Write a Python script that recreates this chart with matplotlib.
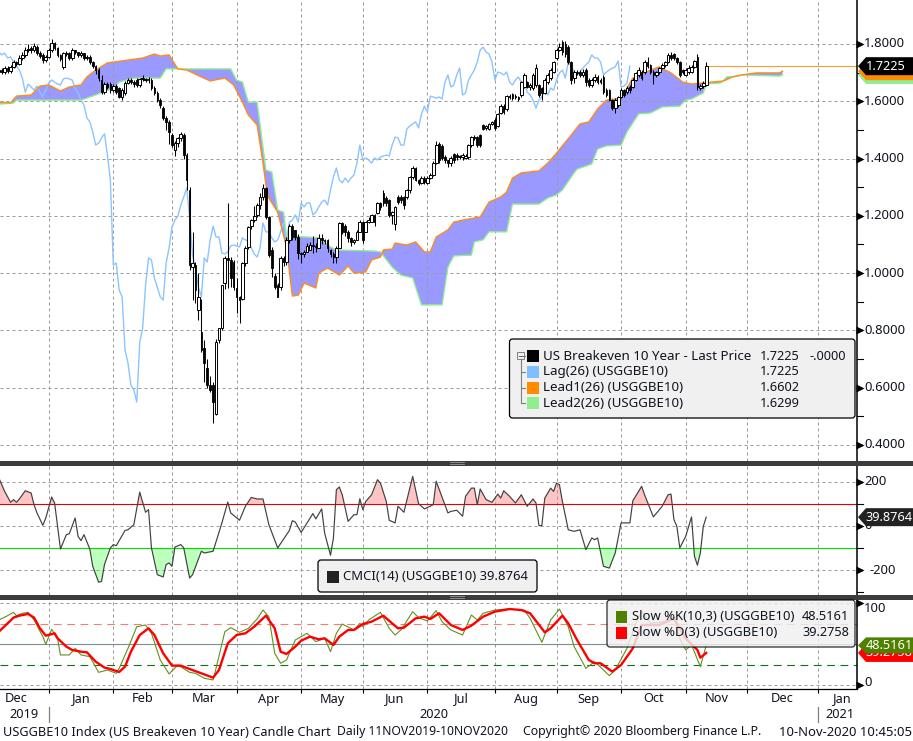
#!/usr/bin/env python3
# -*- coding: utf-8 -*-
import numpy as np
import matplotlib
matplotlib.use('Agg')
import matplotlib.pyplot as plt
from matplotlib.patches import Polygon, FancyBboxPatch, Rectangle

plt.rcParams['font.family'] = ['Noto Sans', 'DejaVu Sans']

W, H = 913, 741
TEXT = '#10141f'
GRID = '#9a9a9a'

# sessions are weekdays counted from 9 Dec 2019, candles run to 10 Nov 2020
opens = [
    1.702,1.709,1.702,1.716,1.706,1.720,1.737,1.730,1.751,1.762,
    1.779,1.786,1.779,1.789,1.768,1.762,1.744,1.755,1.779,1.803,
    1.786,1.762,1.720,1.768,1.768,1.751,1.779,1.772,1.762,1.768,
    1.751,1.755,1.737,1.723,1.709,1.674,1.632,1.660,1.660,1.639,
    1.653,1.646,1.615,1.629,1.664,1.674,1.667,1.674,1.657,1.678,
    1.674,1.678,1.674,1.646,1.629,1.604,1.576,1.542,1.528,1.482,
    1.430,1.454,1.472,1.482,1.412,1.290,1.021,1.028,0.871,0.794,
    0.738,0.669,0.609,0.609,0.508,0.766,0.808,0.965,1.053,1.046,
    1.039,0.948,0.917,0.910,1.035,1.091,1.164,1.185,1.203,1.238,
    1.266,1.297,1.196,1.081,0.990,0.958,0.951,1.053,1.039,1.116,
    1.164,1.151,1.126,1.070,1.067,1.074,1.081,1.098,1.095,1.088,
    1.123,1.116,1.116,1.081,1.067,1.056,1.088,1.175,1.164,1.144,
    1.123,1.109,1.116,1.144,1.178,1.144,1.178,1.178,1.203,1.210,
    1.245,1.280,1.262,1.255,1.203,1.171,1.266,1.266,1.266,1.266,
    1.290,1.336,1.367,1.325,1.315,1.332,1.315,1.332,1.343,1.384,
    1.451,1.444,1.405,1.395,1.384,1.416,1.412,1.405,1.405,1.402,
    1.405,1.447,1.475,1.475,1.482,1.517,1.507,1.503,1.521,1.535,
    1.514,1.559,1.583,1.573,1.618,1.625,1.618,1.615,1.622,1.650,
    1.667,1.650,1.646,1.657,1.657,1.646,1.629,1.667,1.681,1.702,
    1.751,1.779,1.807,1.800,1.789,1.737,1.681,1.702,1.702,1.692,
    1.709,1.674,1.657,1.674,1.685,1.674,1.685,1.639,1.639,1.604,
    1.576,1.587,1.615,1.639,1.632,1.650,1.650,1.674,1.692,1.702,
    1.702,1.737,1.727,1.702,1.692,1.702,1.716,1.727,1.737,1.762,
    1.765,1.751,1.737,1.709,1.692,1.702,1.702,1.720,1.755,1.646,
    1.653,1.657]
closes = [
    1.709,1.702,1.716,1.706,1.720,1.737,1.730,1.751,1.762,1.779,
    1.782,1.779,1.793,1.768,1.758,1.744,1.755,1.779,1.803,1.786,
    1.762,1.748,1.768,1.765,1.751,1.779,1.772,1.762,1.768,1.751,
    1.755,1.737,1.723,1.709,1.681,1.632,1.660,1.650,1.639,1.653,
    1.632,1.615,1.639,1.664,1.674,1.667,1.660,1.657,1.678,1.681,
    1.678,1.674,1.646,1.629,1.604,1.587,1.542,1.528,1.493,1.447,
    1.454,1.472,1.486,1.412,1.325,1.028,1.035,0.941,0.917,0.731,
    0.686,0.609,0.592,0.550,0.759,0.808,0.958,1.053,1.046,0.983,
    0.951,0.917,0.906,1.035,1.088,1.161,1.185,1.199,1.238,1.266,
    1.297,1.196,1.063,1.018,0.951,0.917,1.053,1.039,1.116,1.164,
    1.126,1.126,1.070,1.067,1.074,1.095,1.098,1.095,1.091,1.123,
    1.116,1.112,1.088,1.067,1.056,1.088,1.175,1.144,1.144,1.123,
    1.109,1.116,1.144,1.178,1.116,1.178,1.185,1.203,1.178,1.245,
    1.231,1.245,1.245,1.203,1.213,1.231,1.248,1.255,1.238,1.290,
    1.336,1.367,1.325,1.315,1.332,1.318,1.332,1.343,1.384,1.447,
    1.395,1.402,1.395,1.384,1.402,1.395,1.405,1.409,1.412,1.409,
    1.447,1.475,1.472,1.447,1.447,1.503,1.514,1.521,1.528,1.507,
    1.556,1.583,1.563,1.618,1.615,1.611,1.615,1.608,1.667,1.692,
    1.650,1.657,1.692,1.716,1.622,1.629,1.674,1.692,1.709,1.737,
    1.779,1.789,1.772,1.765,1.737,1.674,1.702,1.699,1.692,1.702,
    1.667,1.657,1.674,1.685,1.667,1.667,1.632,1.622,1.604,1.576,
    1.604,1.615,1.639,1.622,1.646,1.639,1.674,1.699,1.709,1.681,
    1.737,1.723,1.702,1.692,1.702,1.716,1.727,1.737,1.762,1.751,
    1.751,1.737,1.692,1.702,1.709,1.716,1.720,1.741,1.650,1.653,
    1.664,1.7225]
highs = [
    1.722,1.716,1.724,1.722,1.728,1.745,1.742,1.760,1.772,1.788,
    1.800,1.794,1.805,1.795,1.775,1.770,1.760,1.785,1.818,1.808,
    1.790,1.766,1.772,1.775,1.772,1.785,1.780,1.770,1.775,1.770,
    1.760,1.760,1.742,1.725,1.715,1.690,1.668,1.668,1.668,1.660,
    1.662,1.650,1.645,1.672,1.682,1.682,1.675,1.682,1.682,1.690,
    1.682,1.685,1.682,1.652,1.635,1.610,1.582,1.548,1.535,1.490,
    1.462,1.475,1.492,1.490,1.420,1.300,1.143,1.040,1.000,0.910,
    0.766,0.700,0.640,0.620,0.770,0.790,0.960,1.060,1.245,1.056,
    1.046,0.983,0.920,1.040,1.095,1.165,1.190,1.235,1.245,1.280,
    1.310,1.300,1.200,1.090,1.000,0.965,1.060,1.060,1.125,1.170,
    1.170,1.150,1.135,1.075,1.080,1.105,1.110,1.130,1.105,1.135,
    1.135,1.120,1.120,1.085,1.075,1.095,1.180,1.178,1.170,1.150,
    1.125,1.120,1.150,1.185,1.182,1.182,1.195,1.208,1.206,1.250,
    1.250,1.290,1.270,1.260,1.218,1.235,1.272,1.272,1.270,1.295,
    1.340,1.375,1.372,1.330,1.340,1.340,1.338,1.350,1.390,1.460,
    1.458,1.450,1.412,1.395,1.408,1.420,1.418,1.412,1.418,1.415,
    1.452,1.480,1.482,1.480,1.486,1.520,1.518,1.525,1.532,1.540,
    1.560,1.590,1.590,1.622,1.625,1.630,1.625,1.620,1.672,1.700,
    1.672,1.665,1.698,1.730,1.662,1.650,1.680,1.700,1.715,1.742,
    1.785,1.805,1.815,1.810,1.795,1.740,1.708,1.710,1.710,1.712,
    1.715,1.680,1.680,1.695,1.690,1.680,1.690,1.645,1.642,1.608,
    1.610,1.620,1.645,1.642,1.652,1.656,1.680,1.703,1.718,1.708,
    1.745,1.755,1.730,1.708,1.705,1.720,1.735,1.742,1.770,1.772,
    1.770,1.755,1.740,1.712,1.715,1.725,1.725,1.745,1.765,1.660,
    1.670,1.737]
lows = [
    1.695,1.695,1.695,1.700,1.700,1.715,1.722,1.725,1.745,1.755,
    1.772,1.770,1.772,1.762,1.752,1.735,1.738,1.750,1.772,1.780,
    1.755,1.740,1.712,1.758,1.745,1.745,1.765,1.755,1.755,1.745,
    1.745,1.730,1.715,1.695,1.670,1.625,1.625,1.642,1.628,1.632,
    1.625,1.610,1.605,1.622,1.660,1.660,1.650,1.650,1.650,1.672,
    1.668,1.665,1.640,1.622,1.598,1.575,1.535,1.500,1.450,1.440,
    1.410,1.440,1.462,1.400,1.290,1.010,0.906,0.896,0.836,0.725,
    0.620,0.600,0.585,0.477,0.505,0.757,0.800,0.945,0.948,0.951,
    0.941,0.861,0.825,0.905,1.025,1.085,1.155,1.180,1.195,1.225,
    1.255,1.190,1.055,0.985,0.945,0.915,0.940,1.025,1.030,1.105,
    1.115,1.115,1.050,1.035,1.055,1.075,1.085,1.070,1.075,1.105,
    1.100,1.100,1.075,1.055,1.035,1.035,1.160,1.135,1.130,1.110,
    1.095,1.100,1.130,1.165,1.105,1.165,1.175,1.190,1.165,1.205,
    1.220,1.235,1.235,1.195,1.170,1.150,1.240,1.245,1.225,1.260,
    1.280,1.330,1.320,1.308,1.310,1.310,1.310,1.328,1.340,1.380,
    1.385,1.395,1.385,1.370,1.375,1.385,1.395,1.400,1.395,1.398,
    1.400,1.440,1.465,1.440,1.440,1.500,1.500,1.500,1.518,1.500,
    1.510,1.555,1.555,1.565,1.608,1.605,1.608,1.602,1.615,1.645,
    1.645,1.640,1.640,1.650,1.615,1.605,1.625,1.660,1.675,1.700,
    1.745,1.775,1.760,1.755,1.730,1.660,1.665,1.690,1.685,1.685,
    1.655,1.650,1.650,1.668,1.660,1.660,1.625,1.615,1.600,1.570,
    1.560,1.580,1.610,1.615,1.625,1.630,1.645,1.670,1.685,1.675,
    1.695,1.715,1.695,1.660,1.685,1.695,1.712,1.720,1.732,1.745,
    1.745,1.730,1.685,1.695,1.688,1.695,1.698,1.715,1.640,1.640,
    1.645,1.655]

lead1_days = [0,4,6,11,14,17,21,24,28,30,33,37,42,49,53,55,58,61,64,69,72,77,80,83,85,88,90,91,92,95,98,
              100,102,104,108,109,112,116,119,121,125,127,130,131,134,135,139,142,145,147,149,153,155,158,
              164,167,171,173,175,178,184,187,190,195,198,201,204,207,212,216,222,225,229,233,236,240,243,
              247,250,253,258,262,266,267]
lead1 = [1.597,1.594,1.618,1.622,1.653,1.657,1.636,1.650,1.657,1.685,1.709,1.734,1.741,1.751,1.765,1.758,
         1.762,1.713,1.709,1.685,1.671,1.681,1.657,1.597,1.552,1.517,1.384,1.308,1.262,1.213,1.091,
         0.920,0.923,0.965,0.948,1.000,1.018,0.993,1.025,1.000,1.004,1.046,1.056,1.081,1.084,1.105,1.098,
         1.109,1.074,1.074,1.126,1.151,1.178,1.185,1.196,1.248,1.266,1.283,1.332,1.350,1.357,1.384,1.419,
         1.482,1.521,1.528,1.573,1.604,1.611,1.681,1.709,1.720,1.699,1.667,1.660,1.664,1.667,
         1.671,1.685,1.692,1.699,1.699,1.699,1.7051]
lead2_days = [0,5,6,28,33,39,41,46,55,57,79,81,83,85,88,91,93,95,97,98,105,109,113,115,128,130,134,137,141,
              144,151,153,155,161,162,165,167,173,175,184,187,190,192,196,197,202,204,207,212,214,218,222,
              226,232,234,236,240,241,246,248,252,253,266,267]
lead2 = [1.590,1.594,1.604,1.604,1.622,1.646,1.667,1.681,1.681,1.713,1.713,1.674,1.667,1.597,1.597,1.360,
         1.353,1.220,1.213,1.129,1.126,1.123,1.091,1.081,1.077,1.074,1.021,0.993,0.983,
         0.889,0.889,1.021,1.060,1.063,1.109,1.116,1.144,1.144,1.241,1.241,1.262,1.273,1.290,1.350,1.363,
         1.381,1.433,1.444,1.447,1.493,1.556,1.559,1.580,1.583,1.604,1.608,1.629,1.660,1.664,1.685,1.688,
         1.692,1.688,1.6919]

cmci_days = [0,2,4,5,6,7,9,11,12,13,15,16,18,19,21,23,24,26,27,28,29,31,32,34,35,36,38,39,40,43,44,46,48,50,
             51,52,54,56,57,58,59,60,62,63,65,66,69,70,73,76,78,79,82,84,86,88,90,92,95,99,100,101,103,107,
             108,110,111,113,114,115,116,117,119,121,122,123,124,125,127,129,130,132,133,135,136,138,141,
             143,145,148,149,153,154,156,158,159,161,162,163,164,166,168,170,171,172,174,176,178,180,182,
             183,184,185,186,188,189,190,191,192,194,196,198,200,202,203,204,206,208,210,212,215,216,219,
             220,223,226,228,229,230,231,232,234,236,237,238,239,240,241]
cmci = [217,156,107,119,107,122,159,149,96,59,3,36,131,104,-104,-39,-35,36,-47,-66,-39,-104,-182,-254,-250,
        -174,-99,-84,-89,-20,-17,6,153,62,74,-99,-220,-230,-174,-167,-182,-95,-84,-99,-235,-220,-114,-122,
        -114,14,108,59,26,89,129,122,122,6,-99,-20,24,18,-29,56,32,77,-32,-132,-54,164,176,141,21,51,51,
        123,74,111,141,209,194,111,26,14,89,62,224,101,77,96,202,59,66,71,44,134,171,171,96,167,119,107,
        144,126,159,134,104,141,89,122,104,2,2,126,171,156,194,186,111,-17,-24,-17,-107,-54,-62,-54,-182,
        -190,-122,14,14,114,179,141,41,89,141,144,29,-2,-99,-47,41,-137,-177,-122,-2,39.8764]

k_days = [0,3,5,6,8,10,12,15,16,18,20,21,24,26,28,31,34,37,40,41,44,47,50,52,55,58,61,65,67,70,73,74,77,79,82,
          85,88,90,92,94,96,98,101,103,105,108,111,113,115,117,121,123,124,126,130,133,135,137,141,143,146,
          149,151,154,158,161,163,165,169,173,179,181,185,188,191,194,196,200,203,208,210,214,217,219,222,
          227,230,232,234,236,239,241]
slow_k = [79.6,84.9,89,84.9,87.8,89,79.6,59.2,49.8,68.2,57.2,36.8,36.8,44.9,36.8,34.7,15.5,18.4,14.3,20.4,44.9,
          71.4,73.5,63.3,30.6,13.5,24.5,15.5,14.3,8.2,6.2,20.4,65.3,70.2,64.5,69.4,80.8,91.8,83.7,38.8,26.6,
          30.6,55.1,59.2,63.3,53.1,57.2,40.8,63.3,74.7,67.4,75.5,71.4,79.6,89,69.4,61.2,67.4,89.8,82.5,78.4,
          91,77.6,67.4,61.2,85.7,79.6,87.8,91.8,93,91.8,81.6,52.3,79.6,93,71.4,47,20.4,28.6,11.5,18.4,44.9,
          75.5,89.8,75.5,77.6,83.7,57.2,42.9,49,22.5,48.5161]
d_days = [0,3,5,7,10,12,14,16,19,20,23,25,28,30,33,36,38,41,43,45,48,51,53,56,59,62,65,69,73,75,78,81,84,87,91,
          94,96,98,101,103,106,109,111,114,116,119,121,124,127,131,134,136,138,142,145,147,150,154,158,161,
          165,169,174,178,181,186,188,192,194,197,201,203,205,209,212,216,219,225,230,234,238,239,241]
slow_d = [65.3,75.5,82.5,84.9,87,82.5,69.4,60.4,63.3,57.2,47,42.9,40.8,40,28.6,21.3,19.6,15.9,22.5,40.8,61.2,
          69.4,61.2,38.8,23.7,23.7,19.6,14.3,9,18.4,51,61.2,63.3,71.4,84.9,69.4,40.8,38,47,54.3,59.2,55.9,
          57.2,49,59.2,67.4,67.4,74.7,77.6,84.9,75.5,69.4,70.2,81.6,83.7,80.8,87.8,73.5,67.4,72.7,83.7,89.8,
          93,91.8,87.8,64.5,69.4,84.9,75.5,55.1,30.6,26.6,26.6,16.4,24.5,44.9,73.5,73.5,81.6,57.2,42.9,33.5,
          39.2758]

month_ends = ['2020-01-01','2020-01-31','2020-02-28','2020-03-31','2020-04-30','2020-05-29','2020-06-30',
              '2020-07-31','2020-08-31','2020-09-30','2020-10-30','2020-11-30','2021-01-01']
month_labels = ['Dec','Jan','Feb','Mar','Apr','May','Jun','Jul','Aug','Sep','Oct','Nov','Dec','Jan']
price_ticks = [1.8,1.6,1.4,1.2,1.0,0.8,0.6,0.4]
price_minor = [1.7,1.5,1.3,1.1,0.9,0.7,0.5]
cmci_ticks = [200,0,-200]
cmci_minor = [100,-100,-300]
stoch_ticks = [100,0]

FIRST = np.datetime64('2019-12-09')
days = np.arange(len(closes))
tick_days = np.busday_count(FIRST, np.array(month_ends, dtype='datetime64[D]'))
x0, x1 = 0.4, 292.2


def panel(top, bottom, ylim):
    ax = fig.add_axes([0, (H - bottom) / H, 856.5 / W, (bottom - top) / H])
    ax.set_xlim(x0, x1)
    ax.set_ylim(*ylim)
    for s in ['top', 'left', 'bottom']:
        ax.spines[s].set_visible(False)
    ax.spines['right'].set_linewidth(1.1)
    ax.tick_params(left=False, right=False, bottom=False, labelleft=False, labelbottom=False)
    ax.set_xticks(tick_days)
    ax.grid(True, color=GRID, lw=0.72, ls=(0, (3, 3)))
    return ax


def axis_marks(ax, ticks, minor, offsets=None):
    tr = ax.get_yaxis_transform()
    ax.set_yticks(ticks)
    for i, t in enumerate(ticks):
        ax.plot([1.004], [t], marker='>', ms=5.5, color='black', transform=tr, clip_on=False, mec='none')
        dy = offsets[i] if offsets else 0
        dx = 9.0 if t < 0 else 5.5
        txt = '%.4f' % t if ax is ax_price else '%d' % t
        ax.annotate(txt, xy=(1, t), xycoords=tr, xytext=(dx, dy), textcoords='offset points',
                    va='center', ha='left', fontsize=9.4, color=TEXT, annotation_clip=False)
    for t in minor:
        ax.plot([1, 1.008], [t, t], color='black', lw=0.8, transform=tr, clip_on=False)


def tag(ax, value, face, text, z, half=9, tcol='white'):
    # flag on the right axis, its height comes from the panel's y scale
    y = H - ax.transData.transform((0, value))[1]
    ov.add_patch(Polygon([(858, y), (866, y - half), (913, y - half), (913, y + half), (866, y + half)],
                         closed=True, fc=face, ec='none', zorder=z))
    ov.text(865.5, y, text, color=tcol, fontsize=9.2, va='center', ha='left', zorder=z + 0.1)


def legend_box(x, y, w, h, alpha=1.0):
    ov.add_patch(FancyBboxPatch((x + 2, y + 2), w - 4, h - 4, boxstyle='round,pad=2,rounding_size=3',
                                fc='#f0f0f0', ec='black', lw=0.9, alpha=alpha, zorder=3))


fig = plt.figure(figsize=(W / 100, H / 100), dpi=100)

ax_price = panel(0, 461, (0.3440, 1.9536))
ax_cmci = panel(465.5, 595, (-311.5, 273.1))
ax_stoch = panel(599.5, 689, (-4.9, 104.7))

# price panel
ax_price.set_yticks(price_ticks)
ax_price.fill(lead1_days + lead2_days[::-1], lead1 + lead2[::-1], fc='#9999ff', ec='none', zorder=1)
ax_price.plot(days[:-26], closes[26:], color='#8cc4ff', lw=1.0, zorder=2)
ax_price.plot(lead2_days, lead2, color='#90ee90', lw=1.0, zorder=2.1)
ax_price.plot(lead1_days, lead1, color='#ff8c1a', lw=1.0, zorder=2.2)
ax_price.vlines(days, lows, highs, color='black', lw=0.75, zorder=2.4)
o = np.array(opens)
c = np.array(closes)
up = c >= o
ax_price.bar(days[~up], (c - o)[~up], bottom=o[~up], width=0.55, fc='black', ec='black', lw=0.6, zorder=2.5)
ax_price.bar(days[up], (c - o)[up], bottom=o[up], width=0.95, fc='white', ec='black', lw=0.7, zorder=2.6)
ax_price.plot([days[-1], x1], [closes[-1], closes[-1]], color='#f0a030', lw=0.8, zorder=2)
axis_marks(ax_price, price_ticks, price_minor)

# CMCI panel
ax_cmci.axhline(100, color='#e00000', lw=0.8, zorder=1.8)
ax_cmci.axhline(-100, color='#00e000', lw=0.8, zorder=1.8)
ax_cmci.fill_between(cmci_days, 100, cmci, where=np.array(cmci) > 100, interpolate=True, color='#ffc4c4', lw=0, zorder=1)
ax_cmci.fill_between(cmci_days, -100, cmci, where=np.array(cmci) < -100, interpolate=True, color='#bdffbd', lw=0, zorder=1)
ax_cmci.plot(cmci_days, cmci, color='#404040', lw=0.85, zorder=2)
ax_cmci.set_yticks(cmci_ticks)
axis_marks(ax_cmci, cmci_ticks, cmci_minor, offsets=[0, 0, 0])

# stochastics panel
ax_stoch.set_yticks(stoch_ticks)
ax_stoch.axhline(75, color='#f08070', lw=0.8, ls=(0, (7, 5)), zorder=1.8)
ax_stoch.axhline(50, color='#7a9090', lw=0.8, zorder=1.8)
ax_stoch.axhline(25, color='#107010', lw=0.8, ls=(0, (7, 5)), zorder=1.8)
ax_stoch.plot(k_days, slow_k, color='#5f9020', lw=0.8, zorder=2)
ax_stoch.plot(d_days, slow_d, color='#ff0000', lw=1.7, zorder=2.1)
axis_marks(ax_stoch, stoch_ticks, [], offsets=[-4, 2])

# bottom time axis
ax_stoch.spines['bottom'].set_visible(True)
ax_stoch.spines['bottom'].set_linewidth(0.9)
ax_stoch.tick_params(axis='x', bottom=True, length=3, width=0.8)

# overlay in pixels for the window furniture
ov = fig.add_axes([0, 0, 1, 1], zorder=10)
ov.set_xlim(0, W)
ov.set_ylim(H, 0)
ov.axis('off')

for top, bot in [(461, 465.5), (595, 599.5)]:
    ov.add_patch(Rectangle((0, top), W, bot - top, fc='#3c3c3c', ec='none'))
    for dy in (1.2, 3):
        ov.plot([450, 464], [top + dy, top + dy], color='#9a9a9a', lw=0.6)

# flags, the later ones lie over the earlier ones
tag(ax_price, lead2[-1], '#90ee90', '%.4f' % lead2[-1], 5, tcol=TEXT)
tag(ax_price, lead1[-1], '#ff8c00', '%.4f' % lead1[-1], 5.2, tcol=TEXT)
tag(ax_price, closes[-1], 'black', '%.4f' % closes[-1], 5.4)
tag(ax_cmci, cmci[-1], '#222222', '%.4f' % cmci[-1], 5)
tag(ax_stoch, slow_d[-1], '#ff0000', '%.4f' % slow_d[-1], 5)
tag(ax_stoch, slow_k[-1], '#4f8000', '%.4f' % slow_k[-1], 5.2, half=8)

# main legend
legend_box(509.5, 339, 345.5, 79)
rows = [('US Breakeven 10 Year - Last Price', 'black', '1.7225'),
        ('Lag(26) (USGGBE10)', '#80bfff', '1.7225'),
        ('Lead1(26) (USGGBE10)', '#ff8c00', '1.6602'),
        ('Lead2(26) (USGGBE10)', '#90ee90', '1.6299')]
for n, (lab, col, val) in enumerate(rows):
    yy = 356 + n * 15.8
    ov.add_patch(Rectangle((527, yy - 6), 12, 12, fc=col, ec='none', zorder=4))
    ov.text(543, yy, lab, fontsize=9.6, va='center', color=TEXT, zorder=4)
    ov.text(760, yy, val, fontsize=9.2, va='center', color=TEXT, zorder=4)
    ov.plot([520.5, 525], [yy, yy], color='#808080', lw=0.8, zorder=4)
ov.text(810, 356, '-.0000', fontsize=9.2, va='center', color=TEXT, zorder=4)
ov.add_patch(Rectangle((517, 352), 7, 7, fc='#f0f0f0', ec='#808080', lw=0.7, zorder=4))
ov.plot([518.5, 522.5], [355.5, 355.5], color='#606060', lw=0.7, zorder=5)
ov.plot([520.5, 520.5], [359, 403.4], color='#808080', lw=0.8, zorder=4)

# CMCI legend
legend_box(318, 560, 219, 32)
ov.add_patch(Rectangle((327, 571), 12, 12, fc='#222222', ec='none', zorder=4))
ov.text(343, 577, 'CMCI(14) (USGGBE10) 39.8764', fontsize=9.4, va='center', color=TEXT, zorder=4)

# stochastics legend
legend_box(607, 600, 248, 47, alpha=0.82)
for yy, col, lab, val in [(617, '#4f8000', 'Slow %K(10,3) (USGGBE10)', '48.5161'),
                          (633, '#ff0000', 'Slow %D(3) (USGGBE10)', '39.2758')]:
    ov.add_patch(Rectangle((616, yy - 6), 11, 12, fc=col, ec='none', zorder=4))
    ov.text(632, yy, lab, fontsize=9.4, va='center', color=TEXT, zorder=4)
    ov.text(802, yy, val, fontsize=9.2, va='center', color=TEXT, zorder=4)

# month and year labels
edges = np.concatenate(([-5], tick_days, [296]))
mids = (edges[:-1] + edges[1:]) / 2
for m, lab in zip(mids, month_labels):
    xp = (m - x0) / (x1 - x0) * 856.5
    ov.text(xp, 699, lab, fontsize=9.2, ha='center', va='center', color=TEXT)
for xp, lab in [(24, '2019'), (434, '2020'), (840, '2021')]:
    ov.text(xp, 715, lab, fontsize=9.2, ha='center', va='center', color=TEXT)
for d in (tick_days[0], tick_days[-1]):
    xp = (d - x0) / (x1 - x0) * 856.5
    ov.plot([xp, xp], [707, 722], color='#808080', lw=0.9)

ov.text(3, 732, 'USGGBE10 Index (US Breakeven 10 Year) Candle Chart', fontsize=9.2, va='center', color=TEXT)
ov.text(337, 732, 'Daily 11NOV2019-10NOV2020', fontsize=8.8, va='center', color=TEXT)
ov.text(523, 732, 'Copyright© 2020 Bloomberg Finance L.P.', fontsize=8.9, va='center', color=TEXT)
ov.text(912, 732, '10-Nov-2020 10:45:05', fontsize=9.4, va='center', ha='right', color=TEXT)

fig.savefig('out.png', dpi=100)
